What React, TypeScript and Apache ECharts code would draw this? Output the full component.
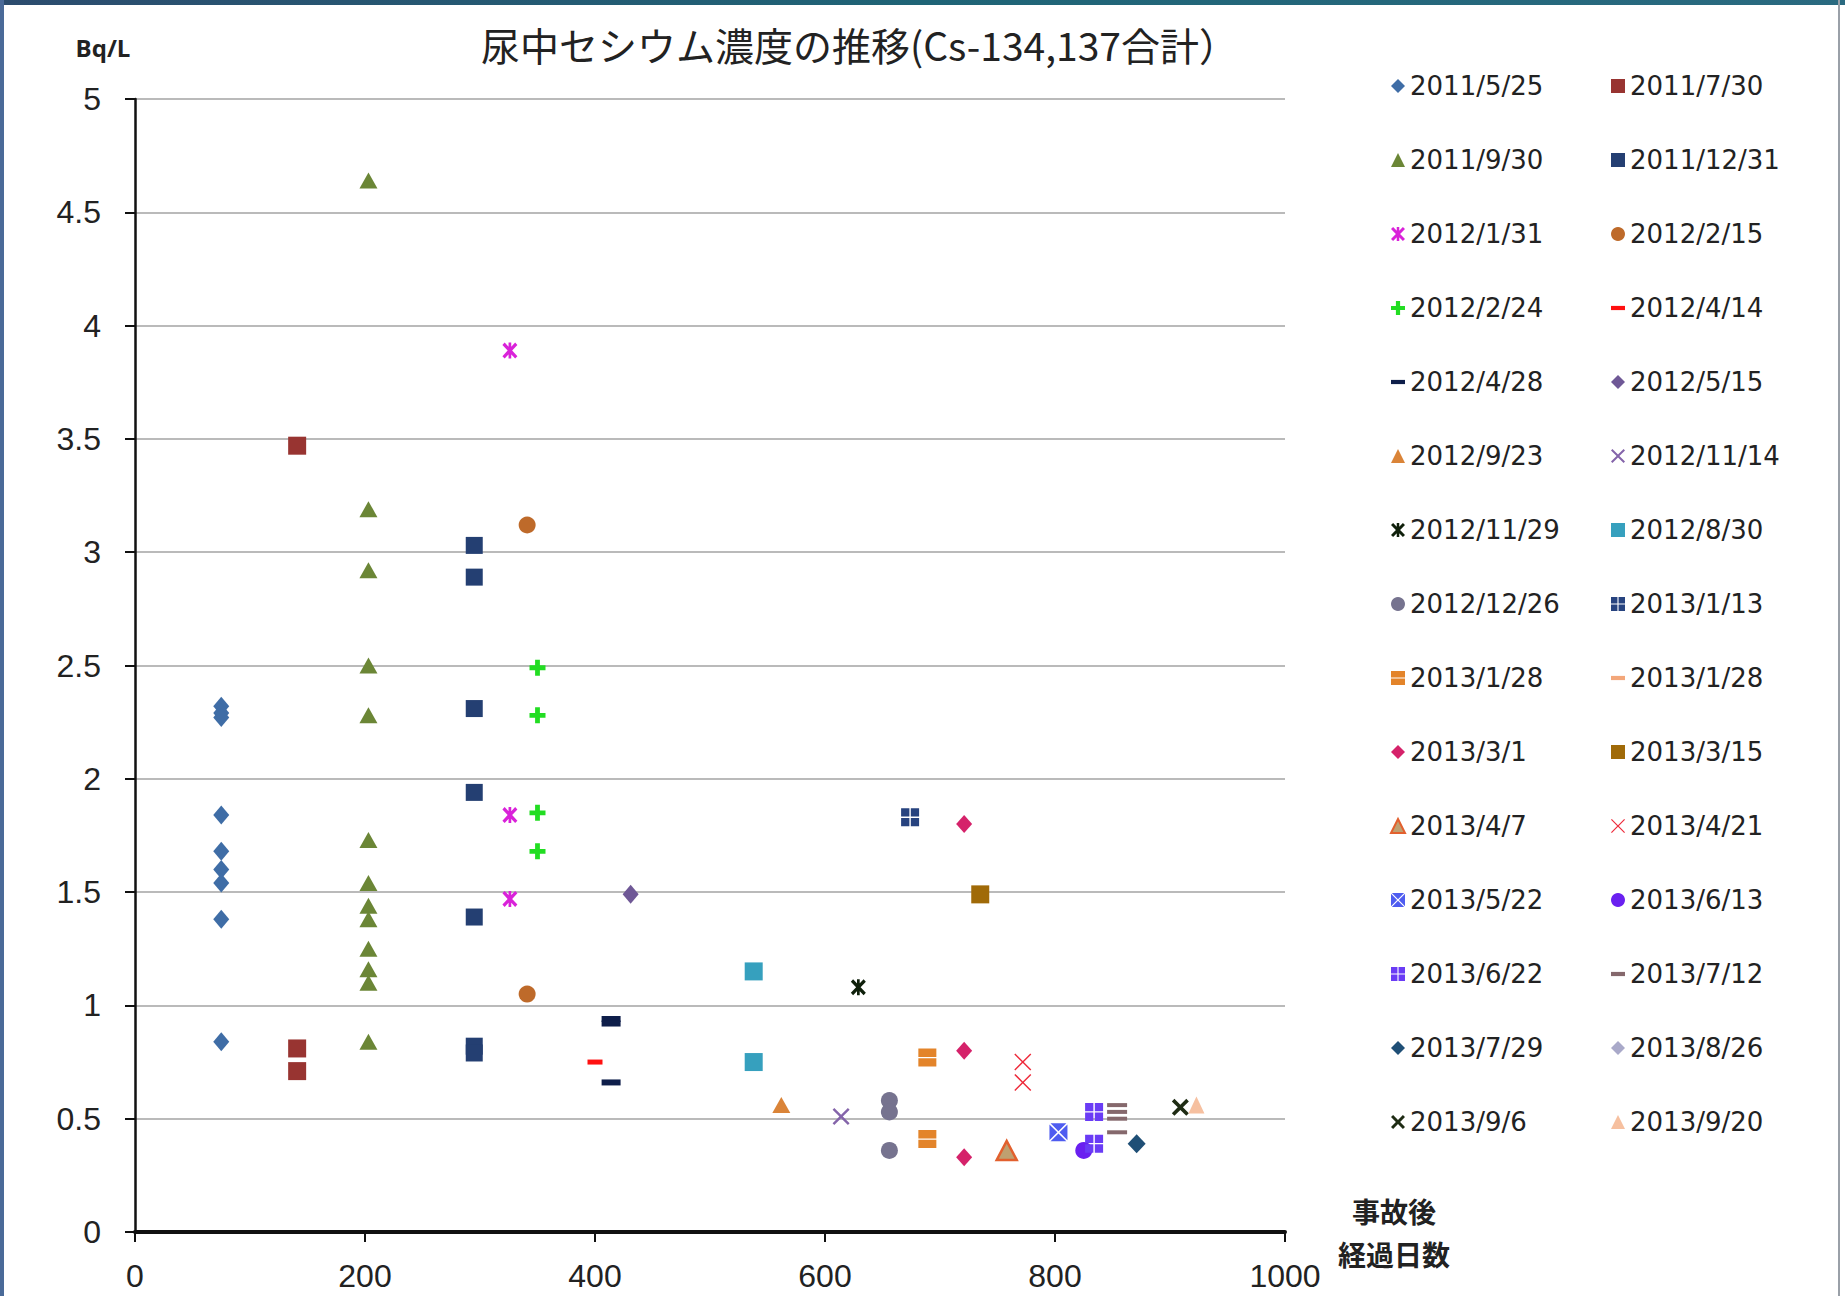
import React, { useEffect, useRef } from "react";
import * as echarts from "echarts";

const TITLE = "尿中セシウム濃度の推移(Cs-134,137合計）";
const Y_UNIT = "Bq/L";
const X_NAME = "事故後\n経過日数";

const X_MIN = 0;
const X_MAX = 1000;
const X_STEP = 200;
const Y_MIN = 0;
const Y_MAX = 5;
const Y_STEP = 0.5;

// legend order (row-major, two columns)
const seriesNames = [
  "2011/5/25", "2011/7/30",
  "2011/9/30", "2011/12/31",
  "2012/1/31", "2012/2/15",
  "2012/2/24", "2012/4/14",
  "2012/4/28", "2012/5/15",
  "2012/9/23", "2012/11/14",
  "2012/11/29", "2012/8/30",
  "2012/12/26", "2013/1/13",
  "2013/1/28", "2013/1/28 (2)",
  "2013/3/1", "2013/3/15",
  "2013/4/7", "2013/4/21",
  "2013/5/22", "2013/6/13",
  "2013/6/22", "2013/7/12",
  "2013/7/29", "2013/8/26",
  "2013/9/6", "2013/9/20",
];

// days elapsed since the accident for each measurement date
const seriesDays = [
  75, 141,
  203, 295,
  326, 341,
  350, 400,
  414, 431,
  562, 614,
  629, 538,
  656, 674,
  689, 689,
  721, 735,
  758, 772,
  803, 825,
  834, 854,
  871, 899,
  909, 923,
];

// concentrations (Bq/L) per measurement date
const v20110525 = [2.32, 2.29, 2.27, 1.84, 1.68, 1.6, 1.54, 1.38, 0.84];
const v20110730 = [3.47, 0.81, 0.71];
const v20110930 = [4.64, 3.19, 2.92, 2.5, 2.28, 1.73, 1.54, 1.44, 1.38, 1.25, 1.16, 1.1, 0.84];
const v20111231 = [3.03, 2.89, 2.31, 1.94, 1.39, 0.82, 0.79];
const v20120131 = [3.89, 1.84, 1.47];
const v20120215 = [3.12, 1.05];
const v20120224 = [2.49, 2.28, 1.85, 1.68];
const v20120414 = [0.75];
const v20120428 = [0.94, 0.92, 0.66];
const v20120515 = [1.49];
const v20120923 = [0.56];
const v20121114 = [0.51];
const v20121129 = [1.08];
const v20120830 = [1.15, 0.75];
const v20121226 = [0.58, 0.53, 0.36];
const v20130113 = [1.83];
const v20130128 = [0.77, 0.41];
const v20130128b: number[] = [];
const v20130301 = [1.8, 0.8, 0.33];
const v20130315 = [1.49];
const v20130407 = [0.36];
const v20130421 = [0.75, 0.66];
const v20130522 = [0.44];
const v20130613 = [0.36];
const v20130622 = [0.53, 0.39];
const v20130712 = [0.56, 0.53, 0.5, 0.44];
const v20130729 = [0.39];
const v20130826: number[] = [];
const v20130906 = [0.55];
const v20130920 = [0.56];

const seriesValues = [
  v20110525, v20110730, v20110930, v20111231, v20120131, v20120215,
  v20120224, v20120414, v20120428, v20120515, v20120923, v20121114,
  v20121129, v20120830, v20121226, v20130113, v20130128, v20130128b,
  v20130301, v20130315, v20130407, v20130421, v20130522, v20130613,
  v20130622, v20130712, v20130729, v20130826, v20130906, v20130920,
];

// ---- marker styles ----
const X_BOLD = "M0,3L3,0L10,7L17,0L20,3L13,10L20,17L17,20L10,13L3,20L0,17L7,10Z";
const X_MED = "M0,2L2,0L10,8L18,0L20,2L12,10L20,18L18,20L10,12L2,20L0,18L8,10Z";
const X_THIN = "path://M0,1.2L1.2,0L10,8.8L18.8,0L20,1.2L11.2,10L20,18.8L18.8,20L10,11.2L1.2,20L0,18.8L8.8,10Z";
const SYM_X = "path://" + X_MED;
const SYM_XB = "path://" + X_BOLD;
const SYM_STAR = "path://" + X_BOLD + "M8.2,0h3.6v20h-3.6z";
const SYM_PLUS = "path://M7,0h6v7h7v6h-7v7h-6v-7h-7v-6h7z";
const SYM_DASH = "path://M0,0h20v6h-20z";
const SYM_WIN = "path://M0,0h9.2v9.2h-9.2zM10.8,0h9.2v9.2h-9.2zM0,10.8h9.2v9.2h-9.2zM10.8,10.8h9.2v9.2h-9.2z";
const SYM_HBAR = "path://M0,0h20v9.3h-20zM0,10.7h20v9.3h-20z";
const SYM_XCUT = "path://M1.2,0L18.8,0L10,8.8ZM20,1.2L20,18.8L11.2,10ZM18.8,20L1.2,20L10,11.2ZM0,18.8L0,1.2L8.8,10Z";

const seriesColors = [
  "#3F6DA6", "#983431",
  "#6B8636", "#243F72",
  "#D922D9", "#BE6A2A",
  "#22DD22", "#FF1010",
  "#0E1E4A", "#6F5896",
  "#DA8438", "#8464AA",
  "#0F200B", "#36A0BE",
  "#76738F", "#27437F",
  "#E3842A", "#F3A77A",
  "#D5226A", "#A06A08",
  "#BFA070", "#EE2A3A",
  "#4E5CF0", "#6A20F0",
  "#6A3CF5", "#85686C",
  "#1F4F76", "#A9A9C9",
  "#1F2C14", "#F6C0A0",
];

const seriesSymbols = [
  "diamond", "rect",
  "triangle", "rect",
  SYM_STAR, "circle",
  SYM_PLUS, SYM_DASH,
  SYM_DASH, "diamond",
  "triangle", SYM_X,
  SYM_STAR, "rect",
  "circle", SYM_WIN,
  SYM_HBAR, SYM_DASH,
  "diamond", "rect",
  "triangle", X_THIN,
  SYM_XCUT, "circle",
  SYM_WIN, SYM_DASH,
  "diamond", "diamond",
  SYM_XB, "triangle",
];

const seriesSizes: (number | number[])[] = [
  [16, 19], 18,
  [18, 16], 17,
  [15, 16], 17,
  16, [15, 5],
  [19, 6], [16, 19],
  [18, 16], 17,
  [15, 16], 18,
  17, 18,
  18, [18, 4],
  [16, 18], 18,
  [20, 19], 17,
  18, 17,
  18, [20, 4],
  [18, 19], [15, 16],
  17, [16, 17],
];

const seriesBorders: (string | null)[] = seriesNames.map((_, i) => (i === 20 ? "#E2602E" : null));

function App() {
  const ref = useRef<HTMLDivElement>(null);

  useEffect(() => {
    document.body.style.margin = "0";
    if (!ref.current) return;
    const chart = echarts.init(ref.current, undefined, { renderer: "svg" });

    const series = seriesNames.map((name, i) => ({
      name,
      type: "scatter",
      symbol: seriesSymbols[i],
      symbolSize: seriesSizes[i],
      symbolKeepAspect: false,
      itemStyle: seriesBorders[i]
        ? { color: seriesColors[i], opacity: 1, borderColor: seriesBorders[i] as string, borderWidth: 2.5 }
        : { color: seriesColors[i], opacity: 1 },
      emphasis: { disabled: true },
      data: seriesValues[i].map((v) => [seriesDays[i], v]),
      z: 3 + i,
    }));

    const legendText = {
      fontFamily: "DejaVu Sans",
      fontSize: 26,
      color: "#222",
      lineHeight: 30,
    };
    const legendIcon = (i: number) =>
      seriesSymbols[i] === SYM_DASH ? SYM_DASH : undefined;

    const mkLegend = (parity: number, left: number) => ({
      orient: "vertical",
      left,
      top: 66,
      itemWidth: 14,
      itemHeight: 14,
      itemGap: 44,
      selectedMode: false,
      textStyle: legendText,
      itemStyle: { opacity: 1 },
      formatter: (n: string) => n.replace(" (2)", ""),
      data: seriesNames
        .map((name, i) => ({ name, i }))
        .filter((d) => d.i % 2 === parity)
        .map((d) => {
          const ic = legendIcon(d.i);
          return ic ? { name: d.name, icon: ic } : { name: d.name };
        }),
    });

    chart.setOption({
      animation: false,
      backgroundColor: "#ffffff",
      title: {
        text: TITLE,
        left: 476,
        top: 19,
        textStyle: {
          fontFamily: "Noto Sans CJK JP",
          fontSize: 39,
          fontWeight: "normal",
          color: "#222",
        },
      },
      legend: [mkLegend(0, 1385), mkLegend(1, 1606)],
      grid: { left: 135, right: 560, top: 99, bottom: 64, containLabel: false },
      xAxis: {
        type: "value",
        min: X_MIN,
        max: X_MAX,
        interval: X_STEP,
        name: X_NAME,
        nameLocation: "end",
        nameGap: 109,
        nameTextStyle: {
          fontFamily: "Noto Sans CJK JP",
          fontSize: 28,
          fontWeight: "bold",
          color: "#222",
          align: "center",
          verticalAlign: "middle",
          lineHeight: 43,
        },
        axisLine: { show: true, lineStyle: { color: "#111", width: 4 } },
        axisTick: { show: true, inside: false, length: 10, lineStyle: { color: "#111", width: 2 } },
        axisLabel: {
          margin: 28,
          fontFamily: "Liberation Sans",
          fontSize: 32,
          color: "#222",
          formatter: (v: number) => String(v),
        },
        splitLine: { show: false },
      },
      yAxis: {
        type: "value",
        min: Y_MIN,
        max: Y_MAX,
        interval: Y_STEP,
        name: Y_UNIT,
        nameLocation: "end",
        nameGap: 40,
        nameTextStyle: {
          fontFamily: "Open Sans",
          fontSize: 24,
          fontWeight: "bold",
          color: "#222",
          padding: [0, 64, 0, 0],
        },
        axisLine: { show: true, lineStyle: { color: "#111", width: 2.5 } },
        axisTick: { show: true, inside: false, length: 10, lineStyle: { color: "#111", width: 2 } },
        axisLabel: {
          margin: 34,
          fontFamily: "Liberation Sans",
          fontSize: 32,
          color: "#222",
          formatter: (v: number) => String(v),
        },
        splitLine: { show: true, lineStyle: { color: "#BABABA", width: 2 } },
      },
      graphic: [
        {
          type: "rect",
          left: 0,
          top: 0,
          shape: { width: 1845, height: 5 },
          style: {
            fill: new echarts.graphic.LinearGradient(0, 0, 1, 0, [
              { offset: 0, color: "#2C4C6E" },
              { offset: 0.5, color: "#1F6476" },
              { offset: 1, color: "#2A6A80" },
            ]),
          },
          silent: true,
          z: 10,
        },
        {
          type: "rect",
          left: 0,
          top: 0,
          shape: { width: 4, height: 1296 },
          style: { fill: "#4A6A98" },
          silent: true,
          z: 10,
        },
        {
          type: "rect",
          left: 1838,
          top: 0,
          shape: { width: 2, height: 1296 },
          style: { fill: "#9AA0A8" },
          silent: true,
          z: 10,
        },
      ],
      series,
    });

    return () => {
      chart.dispose();
    };
  }, []);

  return <div ref={ref} style={{ width: 1845, height: 1296 }} />;
}

export default App;
